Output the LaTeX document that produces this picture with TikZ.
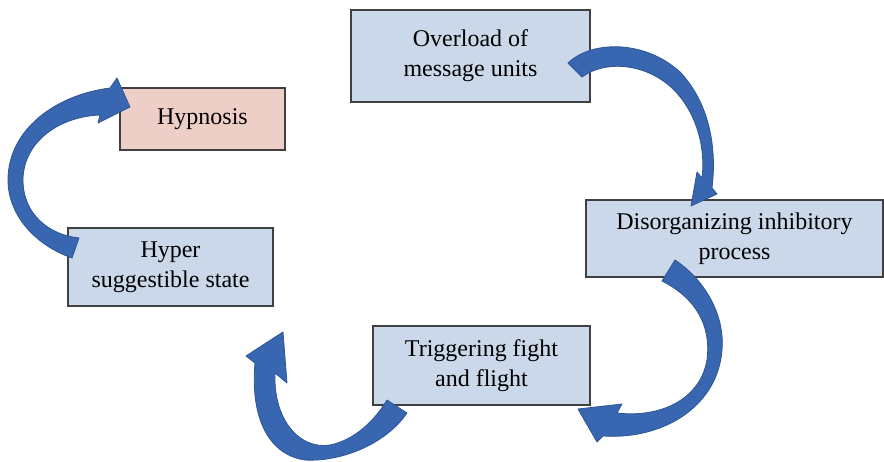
\documentclass[tikz,border=0pt]{standalone}
\usepackage{fontspec}
\setmainfont{Liberation Serif}
\usetikzlibrary{positioning}

\definecolor{boxblue}{HTML}{CBD8EA}
\definecolor{boxpink}{HTML}{EDCFC7}
\definecolor{arrowblue}{HTML}{3866B0}
\definecolor{arrowedge}{HTML}{2D5595}

\tikzset{
  box/.style={draw=black!75, line width=1.2pt, fill=boxblue, align=center,
    inner sep=0pt, font=\fontsize{24}{30}\selectfont},
  pinkbox/.style={box, fill=boxpink},
  curvearrow/.style={fill=arrowblue, draw=arrowedge, line width=0.8pt, line join=round},
}

\begin{document}
\begin{tikzpicture}[x=1pt, y=-1pt]
  \useasboundingbox (0,0) rectangle (884,462);

  \node[box, minimum width=239, minimum height=92] (overload) at (470.5,56) {Overload of\\message units};
  \node[box, minimum width=297, minimum height=77] (disorg) at (734.5,238.5) {Disorganizing inhibitory\\process};
  \node[box, minimum width=217, minimum height=79] (trigger) at (481.5,365.5) {Triggering fight\\and flight};
  \node[box, minimum width=205, minimum height=78] (hyper) at (170.5,267) {Hyper\\suggestible state};
  \node[pinkbox, minimum width=165, minimum height=62] (hypnosis) at (202.5,119) {Hypnosis};

  % overload -> disorganizing
  \draw[curvearrow] (568,63) .. controls (592,40) and (645,40) .. (680,72)
    .. controls (705,98) and (718,140) .. (712,188)
    -- (717,194) -- (691,206) -- (697,172) -- (702,178)
    .. controls (706,145) and (695,110) .. (672,88)
    .. controls (645,63) and (605,60) .. (582,77) -- cycle;

  % disorganizing -> triggering
  \draw[curvearrow] (675,260) .. controls (705,280) and (725,315) .. (722,350)
    .. controls (718,405) and (665,440) .. (603,436)
    -- (597,442) -- (578,409) -- (622,404) -- (617,413)
    .. controls (660,418) and (700,400) .. (707,360)
    .. controls (712,320) and (690,295) .. (662,281) -- cycle;

  % triggering -> hyper suggestible
  \draw[curvearrow] (407,413) .. controls (385,445) and (340,462) .. (305,460)
    .. controls (270,455) and (250,420) .. (255,363)
    -- (246,356) -- (283,332) -- (287,383) -- (275,373)
    .. controls (273,420) and (300,450) .. (330,445)
    .. controls (355,440) and (375,420) .. (387,400) -- cycle;

  % hyper suggestible -> hypnosis
  \draw[curvearrow] (72,258) .. controls (35,245) and (8,215) .. (8,180)
    .. controls (8,130) and (55,95) .. (110,88)
    -- (117,78) -- (130,107) -- (98,123) -- (100,115)
    .. controls (55,117) and (23,145) .. (23,180)
    .. controls (23,215) and (50,235) .. (79,238) -- cycle;
\end{tikzpicture}
\end{document}
